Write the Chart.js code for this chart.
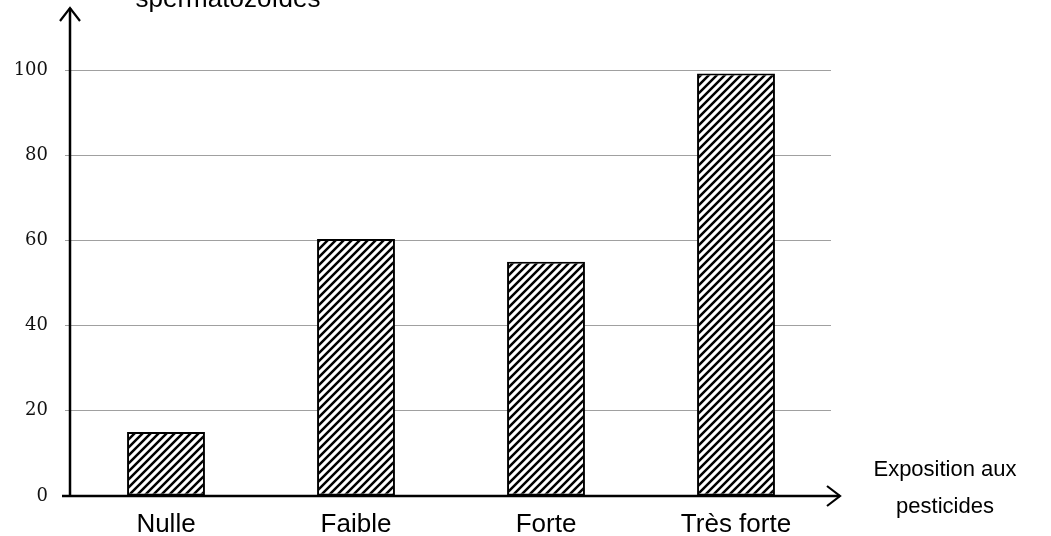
<!DOCTYPE html>
<html>
<head>
    <meta charset="utf-8">
    <title>Exposition aux pesticides</title>
    <script src="https://cdn.jsdelivr.net/npm/chart.js"></script>
    <style>
        body {
            margin: 0;
            background: #fff;
        }
        .container {
            width: 1051px;
            height: 536px;
        }
    </style>
</head>
<body>
    <div class="container">
        <canvas id="chart"></canvas>
    </div>

    <script>
        const categories = ['Nulle', 'Faible', 'Forte', 'Très forte'];
        const values = [15, 60.3, 55, 99.2];
        const yTitle = 'spermatozoïdes';
        const xTitle = ['Exposition aux', 'pesticides'];

        // hatch pattern for the bars
        function makeHatch() {
            const s = 8;
            const c = document.createElement('canvas');
            c.width = s;
            c.height = s;
            const g = c.getContext('2d');
            g.fillStyle = '#fff';
            g.fillRect(0, 0, s, s);
            g.strokeStyle = '#000';
            g.lineWidth = 2.5;
            g.beginPath();
            g.moveTo(0, s); g.lineTo(s, 0);
            g.moveTo(-s, s); g.lineTo(s, -s);
            g.moveTo(0, 2 * s); g.lineTo(2 * s, 0);
            g.stroke();
            return g.createPattern(c, 'repeat');
        }

        function arrowHead(ctx, x, y, dir) {
            const a = 13, b = 10;
            ctx.beginPath();
            if (dir === 'up') {
                ctx.moveTo(x - b, y + a); ctx.lineTo(x, y); ctx.lineTo(x + b, y + a);
            } else {
                ctx.moveTo(x - a, y - b); ctx.lineTo(x, y); ctx.lineTo(x - a, y + b);
            }
            ctx.stroke();
        }

        const axesPlugin = {
            id: 'axesArrows',
            afterDatasetsDraw(chart) {
                const ctx = chart.ctx;
                const area = chart.chartArea;
                const y0 = chart.scales.y.getPixelForValue(0);
                ctx.save();
                ctx.strokeStyle = '#000';
                ctx.lineWidth = 2.5;
                ctx.beginPath();
                ctx.moveTo(area.left - 1, y0);
                ctx.lineTo(area.left - 1, 8);
                ctx.moveTo(area.left - 9, y0);
                ctx.lineTo(area.right + 9, y0);
                ctx.stroke();
                ctx.lineWidth = 2.2;
                arrowHead(ctx, area.left - 1, 8, 'up');
                arrowHead(ctx, area.right + 9, y0, 'right');

                ctx.fillStyle = '#000';
                ctx.font = '26px "Liberation Sans", Arial, sans-serif';
                ctx.textAlign = 'center';
                ctx.textBaseline = 'alphabetic';
                ctx.fillText(yTitle, 228, 7);
                ctx.font = '22px "Liberation Sans", Arial, sans-serif';
                ctx.textBaseline = 'middle';
                ctx.fillText(xTitle[0], 945, 470);
                ctx.fillText(xTitle[1], 945, 507);
                ctx.restore();
            }
        };

        new Chart(document.getElementById('chart'), {
            type: 'bar',
            data: {
                labels: categories,
                datasets: [{
                    data: values,
                    backgroundColor: makeHatch(),
                    borderColor: '#000',
                    borderWidth: 2,
                    borderSkipped: false,
                    barPercentage: 0.41,
                    categoryPercentage: 1
                }]
            },
            options: {
                responsive: true,
                maintainAspectRatio: false,
                animation: false,
                layout: {
                    padding: { left: 0, right: 220, top: 70, bottom: 0 }
                },
                plugins: {
                    legend: { display: false },
                    tooltip: { enabled: false }
                },
                scales: {
                    x: {
                        grid: { display: false },
                        border: { display: false },
                        ticks: {
                            color: '#000',
                            padding: 5,
                            font: { family: '"Liberation Sans", Arial, sans-serif', size: 26 }
                        },
                        afterFit(scale) { scale.height = 40; }
                    },
                    y: {
                        min: 0,
                        max: 100,
                        ticks: {
                            stepSize: 20,
                            color: '#111',
                            padding: 17,
                            font: { family: '"DejaVu Serif", serif', size: 18 }
                        },
                        grid: {
                            color: '#a0a0a0',
                            lineWidth: 1,
                            tickLength: 6
                        },
                        border: { display: false },
                        afterFit(scale) { scale.width = 71; }
                    }
                }
            },
            plugins: [axesPlugin]
        });
    </script>
</body>
</html>
